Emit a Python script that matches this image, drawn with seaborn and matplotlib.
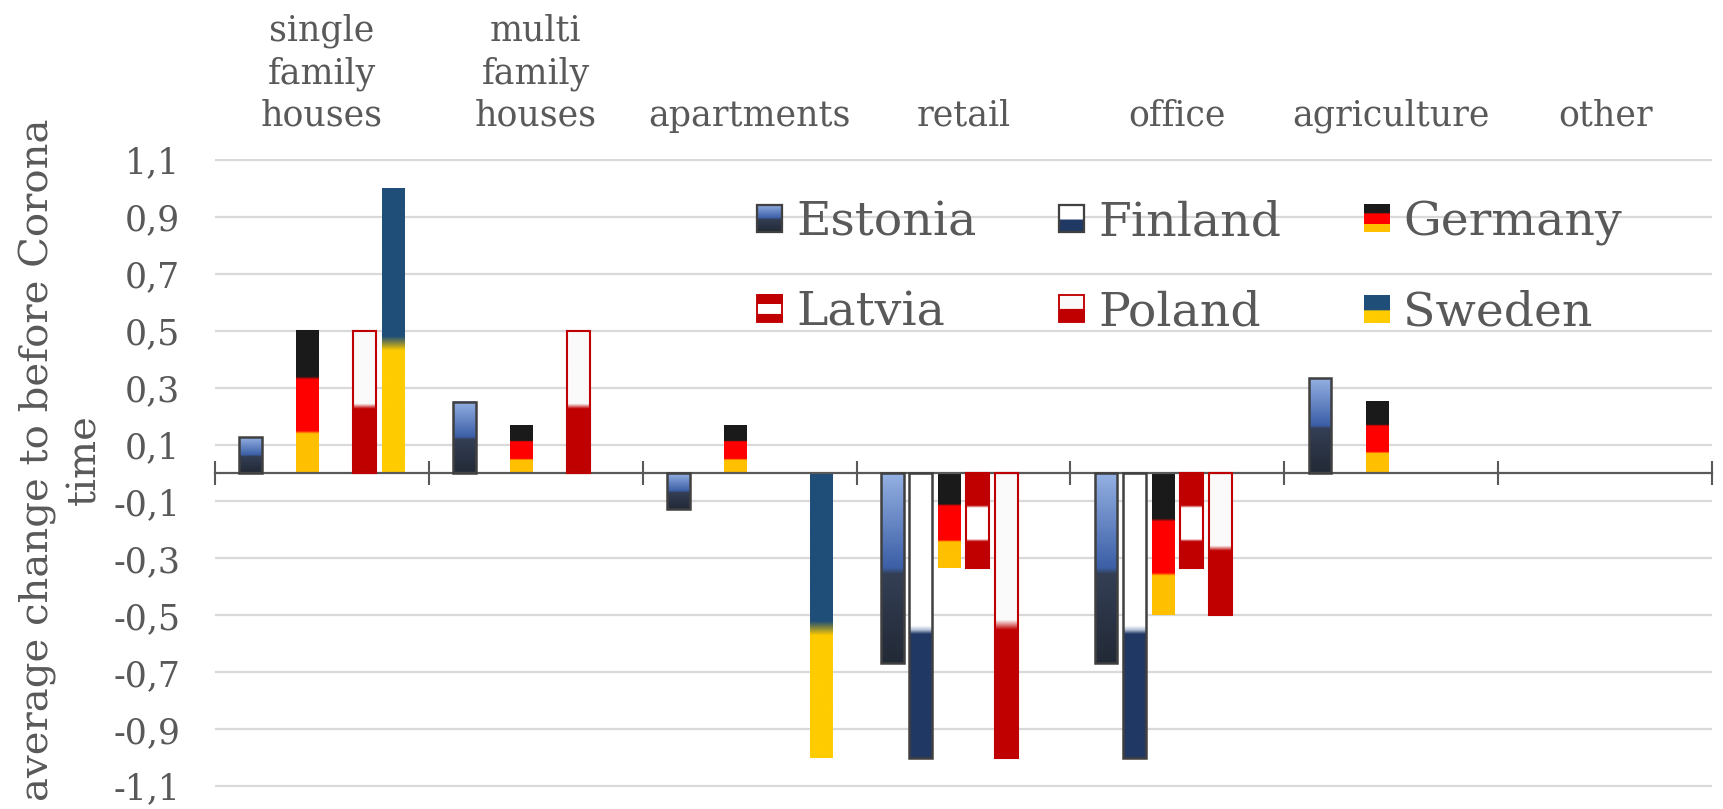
import numpy as np
import pandas as pd
import matplotlib
matplotlib.use("Agg")
import matplotlib.pyplot as plt
import seaborn as sns
from matplotlib.colors import to_rgb
from matplotlib.patches import Patch, Rectangle
from matplotlib.legend_handler import HandlerBase
from matplotlib.image import BboxImage
from matplotlib.transforms import Bbox, TransformedBbox

# ---------------- data ----------------
categories = ["single\nfamily\nhouses", "multi\nfamily\nhouses", "apartments",
              "retail", "office", "agriculture", "other"]
countries = ["Estonia", "Finland", "Germany", "Latvia", "Poland", "Sweden"]
nan = np.nan
estonia = [0.125, 0.25, -0.125, -0.667, -0.667, 0.333, nan]
finland = [nan, nan, nan, -1.0, -1.0, nan, nan]
germany = [0.5, 0.167, 0.167, -0.333, -0.5, 0.25, nan]
latvia = [nan, nan, nan, -0.333, -0.333, nan, nan]
poland = [0.5, 0.5, nan, -1.0, -0.5, nan, nan]
sweden = [1.0, nan, -1.0, nan, nan, nan, nan]
yticks = [-1.1, -0.9, -0.7, -0.5, -0.3, -0.1, 0.1, 0.3, 0.5, 0.7, 0.9, 1.1]
ytick_labels = ["-1,1", "-0,9", "-0,7", "-0,5", "-0,3", "-0,1",
                "0,1", "0,3", "0,5", "0,7", "0,9", "1,1"]
ylabel = "average change to before Corona\ntime"

series = dict(zip(countries, [estonia, finland, germany, latvia, poland, sweden]))
rows = []
for c in countries:
    for cat, v in zip(categories, series[c]):
        if not np.isnan(v):
            rows.append({"category": cat, "country": c, "value": v})
df = pd.DataFrame(rows)

# ---------------- flag fills (top -> bottom stops) ----------------
flag_stops = {
    "Estonia": [(0, "#95b1e3"), (0.50, "#3b5ea6"), (0.53, "#343f55"), (1, "#222936")],
    "Finland": [(0, "#ffffff"), (0.535, "#ffffff"), (0.55, "#b9c4da"), (0.565, "#203864"), (1, "#203864")],
    "Germany": [(0, "#1a1a1a"), (0.325, "#1a1a1a"), (0.345, "#ff0000"), (0.705, "#ff0000"), (0.725, "#ffc000"), (1, "#ffc000")],
    "Latvia": [(0, "#c00000"), (0.34, "#c00000"), (0.365, "#ffffff"), (0.695, "#ffffff"), (0.72, "#c00000"), (1, "#c00000")],
    "Poland": [(0, "#fafafa"), (0.515, "#fafafa"), (0.55, "#c00000"), (1, "#c00000")],
    "Sweden": [(0, "#1f4e79"), (0.52, "#1f4e79"), (0.545, "#8a8a3a"), (0.57, "#ffcc00"), (1, "#ffcc00")],
}
edge_style = {
    "Estonia": ("#404040", 1.8), "Finland": ("#404040", 1.8),
    "Germany": ("none", 0), "Latvia": ("#c00000", 1.5),
    "Poland": ("#c00000", 1.5), "Sweden": ("none", 0),
}


def flag_array(stops, n=400):
    t = np.linspace(0, 1, n)
    pos = [p for p, _ in stops]
    cols = np.array([to_rgb(c) for _, c in stops])
    arr = np.stack([np.interp(t, pos, cols[:, k]) for k in range(3)], axis=-1)
    return arr[:, None, :]


flags = {c: flag_array(s) for c, s in flag_stops.items()}

# ---------------- figure ----------------
sns.set_theme(style="white")
plt.rcParams["font.family"] = ["DejaVu Serif"]
text_color = "#595959"

fig = plt.figure(figsize=(17.23, 8.09), dpi=100)
ax = fig.add_axes([215 / 1723, 1 - 787 / 809, (1712 - 215) / 1723, (787 - 159) / 809])

sns.barplot(data=df, x="category", y="value", hue="country", order=categories,
            hue_order=countries, width=0.8, gap=0.2, dodge=True, errorbar=None,
            legend=False, ax=ax)

slot = 0.8 / len(countries)
for p in ax.patches:
    w = p.get_width()
    if w == 0:
        continue
    x0 = p.get_x()
    xc = x0 + w / 2
    idx = int(round((xc - round(xc) + 0.4) / slot - 0.5))
    country = countries[idx]
    y0 = p.get_y()
    h = p.get_height()
    lo, hi = min(y0, y0 + h), max(y0, y0 + h)
    ax.imshow(flags[country], extent=[x0, x0 + w, lo, hi], origin="upper",
              aspect="auto", interpolation="bilinear", zorder=2.4)
    ec, lw = edge_style[country]
    p.set_facecolor("none")
    p.set_edgecolor(ec)
    p.set_linewidth(lw)
    p.set_zorder(3)

ax.set_xlim(-0.5, len(categories) - 0.5)
ax.set_ylim(-1.103, 1.103)
ax.set_aspect("auto")

# y axis
ax.set_yticks(yticks)
ax.set_yticklabels(ytick_labels)
ax.tick_params(axis="y", length=0, pad=25, labelsize=25, labelcolor=text_color)
for lab in ax.get_yticklabels():
    lab.set_verticalalignment("center_baseline")
ax.yaxis.grid(True, color="#d9d9d9", linewidth=1.6)
ax.set_axisbelow(True)
ax.set_ylabel("")

# x axis: zero line with boundary ticks, category labels on top
for s in ["left", "right", "top"]:
    ax.spines[s].set_visible(False)
ax.spines["bottom"].set_position(("data", 0))
ax.spines["bottom"].set_color(text_color)
ax.spines["bottom"].set_linewidth(1.6)
ax.set_xticks(range(len(categories)))
ax.set_xticklabels(categories)
ax.set_xticks(np.arange(-0.5, len(categories), 1.0), minor=True)
ax.tick_params(axis="x", which="major", bottom=False, top=False,
               labelbottom=False, labeltop=True, labelsize=25,
               labelcolor=text_color, pad=13)
ax.tick_params(axis="x", which="minor", bottom=True, top=False, direction="inout",
               length=17, width=1.5, color=text_color)
for lab in ax.get_xticklabels():
    lab.set_linespacing(1.3)
ax.set_xlabel("")

fig.text(61 / 1723, 1 - 460 / 809, ylabel, rotation=90, ha="center", va="center",
         multialignment="center", fontsize=29, color=text_color, linespacing=1.33)


# ---------------- legend with flag markers ----------------
class FlagHandler(HandlerBase):
    def __init__(self, country):
        super().__init__()
        self.country = country

    def create_artists(self, legend, orig_handle, xdescent, ydescent, width,
                       height, fontsize, trans):
        bb = Bbox.from_bounds(-xdescent, -ydescent, width, height)
        im = BboxImage(TransformedBbox(bb, trans), interpolation="bilinear")
        im.set_data(flags[self.country])
        ec, lw = edge_style[self.country]
        arts = [im]
        if ec != "none":
            r = Rectangle((-xdescent, -ydescent), width, height, facecolor="none",
                          edgecolor=ec, linewidth=lw * 0.9, transform=trans)
            arts.append(r)
        return arts


order = ["Estonia", "Latvia", "Finland", "Poland", "Germany", "Sweden"]
handles = [Patch(label=c) for c in order]
hmap = {h: FlagHandler(c) for h, c in zip(handles, order)}
leg = ax.legend(handles=handles, labels=order, handler_map=hmap, ncol=3,
                loc="upper left", bbox_to_anchor=(757 / 1723, 1 - 200 / 809),
                bbox_transform=fig.transFigure, frameon=False, fontsize=34,
                labelcolor=text_color, handlelength=0.53, handleheight=0.51,
                handletextpad=0.3, columnspacing=1.75, labelspacing=0.95,
                borderpad=0, borderaxespad=0)

fig.savefig("out.png", dpi=100)
